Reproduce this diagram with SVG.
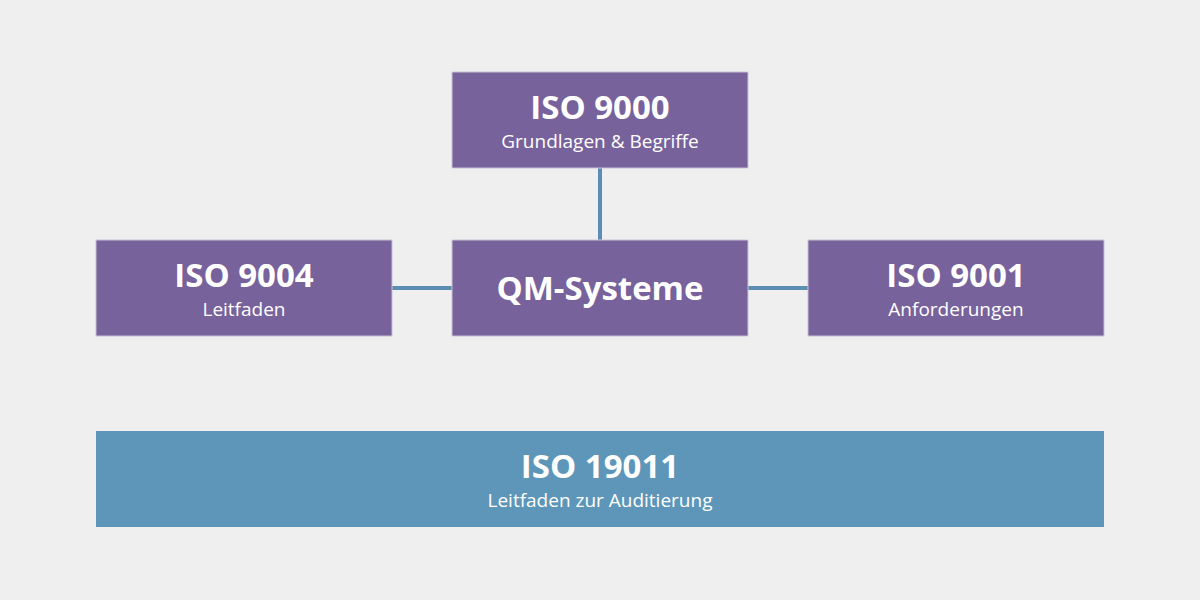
<svg xmlns="http://www.w3.org/2000/svg" width="1200" height="600" viewBox="0 0 1200 600">
<style>
.box{fill:#77629b;stroke:#c9c3d6;stroke-width:1}
.blue{fill:#5d96b9}
.t{font-family:"Open Sans","Noto Sans",sans-serif;font-weight:700;font-size:33px;fill:#fff;text-anchor:middle}
.s{font-family:"Open Sans","Noto Sans",sans-serif;font-size:19px;fill:#fff;text-anchor:middle}
.c{stroke:#5b8db3;stroke-width:4;fill:none}
</style>
<rect width="1200" height="600" fill="#efefef"/>
<g id="connectors">
<line class="c" x1="600" y1="168" x2="600" y2="240"/>
<line class="c" x1="392" y1="288" x2="452" y2="288"/>
<line class="c" x1="748" y1="288" x2="808" y2="288"/>
</g>
<g id="iso9000">
<rect class="box" x="452" y="72" width="296" height="96"/>
<text class="t" x="600" y="119">ISO 9000</text>
<text class="s" x="600" y="148">Grundlagen &amp; Begriffe</text>
</g>
<g id="qm">
<rect class="box" x="452" y="240" width="296" height="96"/>
<text class="t" x="600" y="300">QM-Systeme</text>
</g>
<g id="iso9004">
<rect class="box" x="96" y="240" width="296" height="96"/>
<text class="t" x="244" y="287">ISO 9004</text>
<text class="s" x="244" y="316">Leitfaden</text>
</g>
<g id="iso9001">
<rect class="box" x="808" y="240" width="296" height="96"/>
<text class="t" x="956" y="287">ISO 9001</text>
<text class="s" x="956" y="316">Anforderungen</text>
</g>
<g id="iso19011">
<rect class="blue" x="96" y="431" width="1008" height="96"/>
<text class="t" x="600" y="478">ISO 19011</text>
<text class="s" x="600" y="507">Leitfaden zur Auditierung</text>
</g>
</svg>
